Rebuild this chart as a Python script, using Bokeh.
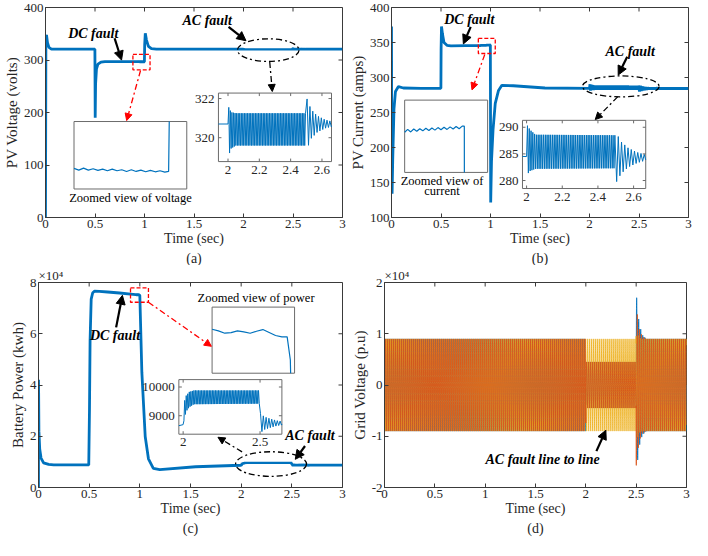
import numpy as np
from bokeh.plotting import figure
from bokeh.layouts import column, row
from bokeh.models import (Range1d, FixedTicker, CustomJSTickFormatter, Title, Arrow, NormalHead)
from bokeh.core.properties import value
from bokeh.embed import file_html
from bokeh.resources import INLINE

FONT = "Liberation Serif"
BLUE = "#0072BD"
ORANGE = "#D95319"
YELLOW = "#EDB120"
AXC = "#3a3a3a"
TXT = "#262626"

# ------------------------------------------------------------------ data
time_ticks = [0, 0.5, 1, 1.5, 2, 2.5, 3]

# (a) PV voltage (V)
a_t1 = [0, 0.004, 0.01, 0.02, 0.035, 0.06, 0.3, 0.499, 0.502, 0.506, 0.515, 0.53, 0.56, 0.6, 0.75, 0.895]
a_v1 = [0, 340, 348, 333, 324, 320.7, 320.7, 320.7, 190, 255, 283, 292, 296, 297, 297, 297]
a_dc_t = [0.900, 0.905, 0.910, 0.915, 0.920, 0.925, 0.930, 0.935, 0.940, 0.945,
          0.950, 0.955, 0.960, 0.965, 0.970, 0.975, 0.980, 0.985, 0.990, 0.995]
a_dc_v = [297.05, 296.80, 297.10, 296.80, 297.00, 296.75, 296.95, 296.70, 296.95, 296.70,
          296.85, 296.60, 296.85, 296.60, 296.80, 296.55, 296.75, 296.55, 296.70, 296.50]
a_t2 = [0.999, 1.002, 1.008, 1.02, 1.04, 1.07, 1.12, 1.5, 2.0]
a_v2 = [296.6, 330, 351, 338, 326, 321.5, 320.8, 320.7, 320.7]
a_env_t = [2.005, 2.02, 2.05, 2.5]
a_env_hi = [321.55, 321.3, 321.25, 321.25]
a_env_lo = [319.1, 319.45, 319.6, 319.6]
a_post_t = [2.505, 2.53, 2.57, 2.62, 2.68]
a_post_amp = [1.28, 0.75, 0.42, 0.22, 0.1]
a_post_center = 320.7
a_t3 = [2.70, 3.0]
a_v3 = [320.7, 320.7]

# (b) PV current (A)
b_t1 = [0, 0.002, 0.006, 0.012, 0.025, 0.04, 0.07, 0.12, 0.3, 0.499, 0.501, 0.505, 0.515, 0.53, 0.56, 0.6, 0.75, 0.895]
b_v1 = [373, 250, 134, 180, 255, 280, 287, 285, 284.5, 284.5, 340, 373, 362, 350, 346, 345.3, 345.5, 345.6]
b_dc_t = a_dc_t
b_dc_v = [345.55, 345.95, 345.60, 346.00, 345.70, 346.05, 345.75, 346.10, 345.80, 346.15,
          345.85, 346.20, 345.90, 346.25, 345.95, 346.30, 346.00, 346.35, 346.05, 346.40]
b_t2 = [0.9985, 1.002, 1.01, 1.026, 1.048, 1.081, 1.115, 1.23, 1.55, 2.0]
b_v2 = [346.4, 121.6, 180, 226, 263, 281.5, 288.8, 288.2, 285, 284.5]
b_env_t = [2.005, 2.02, 2.05, 2.5]
b_env_hi = [290.3, 289.5, 288.6, 288.5]
b_env_lo = [281.2, 281.8, 282.2, 282.3]
b_post_t = [2.505, 2.53, 2.57, 2.62, 2.68]
b_post_amp = [4.5, 3.0, 1.8, 1.0, 0.4]
b_post_center = 284.3
b_t3 = [2.70, 3.0]
b_v3 = [284.3, 284.3]

# (c) battery power (W)
c_t1 = [0, 0.0005, 0.004, 0.012, 0.025, 0.05, 0.1, 0.15, 0.3, 0.496, 0.503, 0.509, 0.52, 0.535, 0.554, 0.6, 0.682, 0.8, 0.908, 0.96]
c_v1 = [0, 42000, 22000, 15000, 11500, 9600, 9000, 8800, 8800, 8800, 30000, 57300, 73500, 76000, 76600, 76550, 76300, 75900, 75500, 75300]
c_dc_t = [0.963, 0.966, 0.969, 0.972, 0.975, 0.978, 0.981, 0.984, 0.987, 0.990, 0.993, 0.996, 0.9985]
c_dc_v = [75265, 75240, 75205, 75215, 75240, 75225, 75205, 75235, 75260, 75215, 75170, 75150, 75150]
c_t2 = [1.0, 1.02, 1.053, 1.085, 1.133, 1.197, 1.55, 2.0]
c_v2 = [74800, 44900, 19900, 11200, 7500, 7000, 8100, 8690]
c_env_t = [2.0, 2.008, 2.02, 2.04, 2.07, 2.5]
c_env_hi = [8700, 9500, 9700, 9830, 9880, 9880]
c_env_lo = [8700, 8900, 9150, 9300, 9400, 9420]
c_post_t = [2.503, 2.53, 2.57, 2.61, 2.66]
c_post_amp = [330, 220, 150, 90, 50]
c_post_center = 8740
c_t3 = [2.68, 3.0]
c_v3 = [8720, 8700]

# (d) three-phase grid voltage: phases listed in drawing order (blue, yellow, orange)
d_freq = 50
d_colors = [BLUE, YELLOW, ORANGE]
d_amp_normal = [9000, 9000, 9000]
d_phase_normal = [0, 120, -120]
d_amp_fault = [4500, 9000, 4500]
d_phase_fault = [300, 120, 300]
d_post_t = [2.5, 2.51, 2.53, 2.56, 2.6]
d_post_amp = [[18500, 15500, 12000, 9800, 9000],
              [11000, 10000, 9200, 9000, 9000],
              [16000, 14000, 11000, 9500, 9000]]
d_fault_start, d_fault_end = 2.0, 2.5


# ------------------------------------------------------------------ helpers
def osc(env_t, hi, lo, freq=100.0):
    half = 0.5 / freq
    n = int(round((env_t[-1] - env_t[0]) / half))
    tt = env_t[0] + half * np.arange(n)
    up = np.interp(tt, env_t, hi)
    dn = np.interp(tt, env_t, lo)
    return tt, np.where(np.arange(n) % 2 == 0, up, dn)


def decay(knot_t, amp, center, sign, freq=55.0):
    half = 0.5 / freq
    n = int((knot_t[-1] - knot_t[0]) / half) + 1
    tt = knot_t[0] + half * np.arange(n)
    aa = np.interp(tt, knot_t, amp)
    return tt, center + sign * aa * (-1.0) ** np.arange(n)


def series(parts):
    t = np.concatenate([np.asarray(p[0], float) for p in parts])
    v = np.concatenate([np.asarray(p[1], float) for p in parts])
    return t, v


def clip_polyline(xs, ys, x0, x1, y0, y1):
    pieces, cx, cy = [], [], []
    for i in range(len(xs) - 1):
        ax, ay, bx, by = xs[i], ys[i], xs[i + 1], ys[i + 1]
        dx, dy = bx - ax, by - ay
        t0, t1, ok = 0.0, 1.0, True
        for p_, q_ in ((-dx, ax - x0), (dx, x1 - ax), (-dy, ay - y0), (dy, y1 - ay)):
            if p_ == 0:
                if q_ < 0:
                    ok = False
                    break
            else:
                r = q_ / p_
                if p_ < 0:
                    if r > t1:
                        ok = False
                        break
                    t0 = max(t0, r)
                else:
                    if r < t0:
                        ok = False
                        break
                    t1 = min(t1, r)
        if not ok:
            if cx:
                pieces.append((cx, cy))
                cx, cy = [], []
            continue
        sx, sy = ax + t0 * dx, ay + t0 * dy
        ex, ey = ax + t1 * dx, ay + t1 * dy
        if cx and (abs(cx[-1] - sx) > 1e-12 or abs(cy[-1] - sy) > 1e-12):
            pieces.append((cx, cy))
            cx, cy = [], []
        if not cx:
            cx, cy = [sx], [sy]
        cx.append(ex)
        cy.append(ey)
        if t1 < 1.0:
            pieces.append((cx, cy))
            cx, cy = [], []
    if cx:
        pieces.append((cx, cy))
    return pieces


def make_fig(w, h, yr, yticks, ylabel, panel, borders, sci=False):
    p = figure(width=w, height=h, x_range=Range1d(0, 3), y_range=Range1d(*yr),
               output_backend="svg", toolbar_location=None, tools="")
    p.min_border = 0
    p.min_border_left, p.min_border_right, p.min_border_top, p.min_border_bottom = borders
    p.xgrid.visible = False
    p.ygrid.visible = False
    p.outline_line_color = AXC
    p.outline_line_width = 1
    p.xaxis.ticker = FixedTicker(ticks=time_ticks)
    p.yaxis.ticker = FixedTicker(ticks=yticks)
    p.xaxis.formatter = CustomJSTickFormatter(code="return String(tick)")
    if sci:
        p.yaxis.formatter = CustomJSTickFormatter(code="return String(tick/10000)")
    else:
        p.yaxis.formatter = CustomJSTickFormatter(code="return String(tick)")
    p.xaxis.axis_label = "Time (sec)"
    p.yaxis.axis_label = ylabel
    for ax in (p.xaxis[0], p.yaxis[0]):
        ax.axis_line_color = AXC
        ax.major_tick_line_color = AXC
        ax.major_tick_in = 4
        ax.major_tick_out = 0
        ax.minor_tick_line_color = None
        ax.major_label_text_font = FONT
        ax.major_label_text_font_size = "13px"
        ax.major_label_text_color = TXT
        ax.axis_label_text_font = FONT
        ax.axis_label_text_font_style = "normal"
        ax.axis_label_text_color = TXT
    p.xaxis.major_label_standoff = 2
    p.xaxis.axis_label_standoff = 0
    p.xaxis.axis_label_text_font_size = "14px"
    p.yaxis.major_label_standoff = 2
    p.yaxis.axis_label_standoff = 1
    p.yaxis.axis_label_text_font_size = "15px"
    # box ticks on the top and right edges (inward)
    ymin, ymax = yr
    p.ray(x=time_ticks, y=[ymax] * len(time_ticks), length=4, length_units="screen",
          angle=-np.pi / 2, line_color=AXC)
    p.ray(x=[3] * len(yticks), y=yticks, length=4, length_units="screen",
          angle=np.pi, line_color=AXC)
    if sci:
        p.add_layout(Title(text="×10⁴", align="left", text_font=FONT, text_font_size="13px",
                           text_font_style="normal", text_color=TXT, standoff=0), "above")
    p.add_layout(Title(text=panel, align="center", text_font=FONT, text_font_size="14px",
                       text_font_style="normal", text_color=TXT, standoff=0), "below")
    return p


def add_inset(p, name, box, drange, t, v, xticks=None, yticks=None, xfmt=None, yfmt=None, lw=1.2):
    bx0, bx1, by0, by1 = box
    ix0, ix1, iy0, iy1 = drange
    mx0, mx1 = p.x_range.start, p.x_range.end
    my0, my1 = p.y_range.start, p.y_range.end
    kx = (ix1 - ix0) / (bx1 - bx0)
    ky = (iy1 - iy0) / (by1 - by0)
    p.extra_x_ranges[name] = Range1d(ix0 - (bx0 - mx0) * kx, ix1 + (mx1 - bx1) * kx)
    p.extra_y_ranges[name] = Range1d(iy0 - (by0 - my0) * ky, iy1 + (my1 - by1) * ky)
    p.quad(left=bx0, right=bx1, bottom=by0, top=by1, fill_color="white",
           line_color="#6b6b6b", line_width=1)
    pieces = clip_polyline(list(t), list(v), ix0, ix1, iy0, iy1)
    p.multi_line(xs=[q[0] for q in pieces], ys=[q[1] for q in pieces],
                 line_color=BLUE, line_width=lw, x_range_name=name, y_range_name=name)
    kw = dict(x_range_name=name, y_range_name=name)
    if xticks:
        n = len(xticks)
        p.ray(x=xticks, y=[iy0] * n, length=3, length_units="screen", angle=np.pi / 2,
              line_color="#6b6b6b", **kw)
        p.ray(x=xticks, y=[iy1] * n, length=3, length_units="screen", angle=-np.pi / 2,
              line_color="#6b6b6b", **kw)
        p.text(x=xticks, y=[iy0] * n, text=xfmt, text_font=value(FONT), text_font_size="13px",
               text_align="center", text_baseline="top", y_offset=4, text_color=TXT, **kw)
    if yticks:
        n = len(yticks)
        p.ray(x=[ix0] * n, y=yticks, length=3, length_units="screen", angle=0,
              line_color="#6b6b6b", **kw)
        p.ray(x=[ix1] * n, y=yticks, length=3, length_units="screen", angle=np.pi,
              line_color="#6b6b6b", **kw)
        p.text(x=[ix0] * n, y=yticks, text=yfmt, text_font=value(FONT), text_font_size="13px",
               text_align="right", text_baseline="middle", x_offset=-4, text_color=TXT, **kw)


def note(p, x, y, txt, size="14px", style="bold italic"):
    p.text(x=[x], y=[y], text=[txt], text_font=value(FONT), text_font_size=size,
           text_font_style=style, text_align="center", text_baseline="middle", text_color="black")


def arrow(p, x0, y0, x1, y1, color="black", dash="solid", lw=2.2, size=9):
    p.add_layout(Arrow(x_start=x0, y_start=y0, x_end=x1, y_end=y1, line_color=color,
                       line_width=lw, line_dash=dash,
                       end=NormalHead(size=size, fill_color=color, line_color=color)))


DASHDOT = "6 3 2 3"

# ------------------------------------------------------------------ (a)
ta, va = series([(a_t1, a_v1), (a_dc_t, a_dc_v), (a_t2, a_v2),
                 osc(a_env_t, a_env_hi, a_env_lo),
                 decay(a_post_t, a_post_amp, a_post_center, 1.0), (a_t3, a_v3)])
pa = make_fig(346, 265, (0, 400), [0, 100, 200, 300, 400], "PV Voltage (volts)", "(a)", (36, 4, 5, 46))
pa.line(ta, va, line_color=BLUE, line_width=2.8)
add_inset(pa, "a_dc", (0.288, 1.427, 54.3, 182.8), (0.90, 1.018, 294, 304), ta, va)
add_inset(pa, "a_ac", (1.747, 2.889, 106.5, 237), (1.939, 2.661, 318.78, 322.28), ta, va,
          xticks=[2, 2.2, 2.4, 2.6], yticks=[320, 322], xfmt=["2", "2.2", "2.4", "2.6"], yfmt=["320", "322"], lw=1.0)
pa.quad(left=0.883, right=1.056, bottom=281.3, top=310.9, fill_color=None, line_color="red",
        line_width=1.3, line_dash="4 2")
pa.ellipse(x=2.25, y=318.8, width=0.621, height=43.2, fill_color=None, line_color="black",
           line_width=1.3, line_dash=DASHDOT)
note(pa, 0.482, 350.7, "DC fault")
note(pa, 1.633, 375.5, "AC fault")
note(pa, 0.858, 37.5, "Zoomed view of voltage", size="12.5px", style="normal")
arrow(pa, 0.698, 341.5, 0.768, 299.8)
arrow(pa, 1.849, 363, 2.025, 336.7)
arrow(pa, 0.96, 280, 0.82, 184.6, color="red", dash=DASHDOT, lw=1.3, size=7)
arrow(pa, 2.265, 296.1, 2.291, 240, dash=DASHDOT, lw=1.3, size=7)

# ------------------------------------------------------------------ (b)
tb, vb = series([(b_t1, b_v1), (b_dc_t, b_dc_v), (b_t2, b_v2),
                 osc(b_env_t, b_env_hi, b_env_lo),
                 decay(b_post_t, b_post_amp, b_post_center, -1.0), (b_t3, b_v3)])
pb = make_fig(346, 265, (100, 400), [100, 150, 200, 250, 300, 350, 400], "PV Current (amps)", "(b)", (39, 4, 7, 46))
pb.line(tb, vb, line_color=BLUE, line_width=2.8)
add_inset(pb, "b_dc", (0.133, 0.971, 164.4, 267.7), (0.90, 1.037, 340, 350), tb, vb)
add_inset(pb, "b_ac", (1.323, 2.568, 141.4, 238.8), (1.977, 2.668, 278.5, 291.3), tb, vb,
          xticks=[2, 2.2, 2.4, 2.6], yticks=[280, 285, 290], xfmt=["2", "2.2", "2.4", "2.6"],
          yfmt=["280", "285", "290"], lw=1.0)
pb.quad(left=0.877, right=1.048, bottom=334.3, top=355.9, fill_color=None, line_color="red",
        line_width=1.3, line_dash="4 2")
pb.ellipse(x=2.316, y=287.3, width=0.774, height=29.9, fill_color=None, line_color="black",
           line_width=1.3, line_dash=DASHDOT)
note(pb, 0.786, 383.2, "DC fault")
note(pb, 2.411, 337.3, "AC fault")
note(pb, 0.51, 151.5, "Zoomed view of", size="12.5px", style="normal")
note(pb, 0.51, 138.5, "current", size="12.5px", style="normal")
arrow(pb, 0.80, 372.4, 0.726, 348)
arrow(pb, 2.381, 329.7, 2.29, 303.5)
arrow(pb, 0.942, 332.9, 0.813, 282.3, color="red", dash=DASHDOT, lw=1.3, size=7)
arrow(pb, 2.284, 272.3, 2.058, 240, dash=DASHDOT, lw=1.3, size=7)

# ------------------------------------------------------------------ (c)
tc, vc = series([(c_t1, c_v1), (c_dc_t, c_dc_v), (c_t2, c_v2),
                 osc(c_env_t, c_env_hi, c_env_lo),
                 decay(c_post_t, c_post_amp, c_post_center, 1.0), (c_t3, c_v3)])
pc = make_fig(346, 275, (0, 80000), [0, 20000, 40000, 60000, 80000], "Battery Power (kwh)", "(c)",
              (38, 4, 16, 53), sci=True)
pc.line(tc, vc, line_color=BLUE, line_width=2.8)
add_inset(pc, "c_dc", (1.713, 2.527, 44600, 70400), (0.963, 1.002, 74600, 75600), tc, vc)
add_inset(pc, "c_ac", (1.385, 2.402, 20800, 42100), (1.972, 2.642, 8357, 10257), tc, vc,
          xticks=[2, 2.5], yticks=[9000, 10000], xfmt=["2", "2.5"], yfmt=["9000", "10000"], lw=1.0)
pc.quad(left=0.908, right=1.085, bottom=72300, top=77900, fill_color=None, line_color="red",
        line_width=1.3, line_dash="4 2")
pc.ellipse(x=2.295, y=9150, width=0.70, height=9600, fill_color=None, line_color="black",
           line_width=1.3, line_dash=DASHDOT)
note(pc, 0.755, 59300, "DC fault")
note(pc, 2.679, 20400, "AC fault")
note(pc, 2.147, 73800, "Zoomed view of power", size="12.5px", style="normal")
arrow(pc, 0.766, 62500, 0.828, 75000)
arrow(pc, 2.63, 16200, 2.534, 11000)
arrow(pc, 1.085, 72300, 1.706, 55100, color="red", dash=DASHDOT, lw=1.3, size=7)
arrow(pc, 2.009, 13900, 1.771, 19600, dash=DASHDOT, lw=1.3, size=7)

# ------------------------------------------------------------------ (d)
pd = make_fig(346, 275, (-20000, 20000), [-20000, -10000, 0, 10000, 20000], "Grid Voltage (p.u)", "(d)",
              (38, 6, 16, 53), sci=True)
td = np.linspace(0, 3, 12001)
fault = (td >= d_fault_start) & (td < d_fault_end)
post = td >= d_fault_end
for k, col in enumerate(d_colors):
    amp = np.where(fault, d_amp_fault[k], d_amp_normal[k]).astype(float)
    amp[post] = np.interp(td[post], d_post_t, d_post_amp[k])
    ph = np.deg2rad(np.where(fault, d_phase_fault[k], d_phase_normal[k]))
    vd = amp * np.sin(2 * np.pi * d_freq * td + ph)
    pd.line(td, vd, line_color=col, line_width=0.9)
note(pd, 1.571, -14570, "AC fault line to line")
arrow(pd, 2.105, -12900, 2.199, -8830)

layout = column(row(pa, pb), row(pc, pd))
open("out.html", "w").write(file_html(layout, INLINE))
